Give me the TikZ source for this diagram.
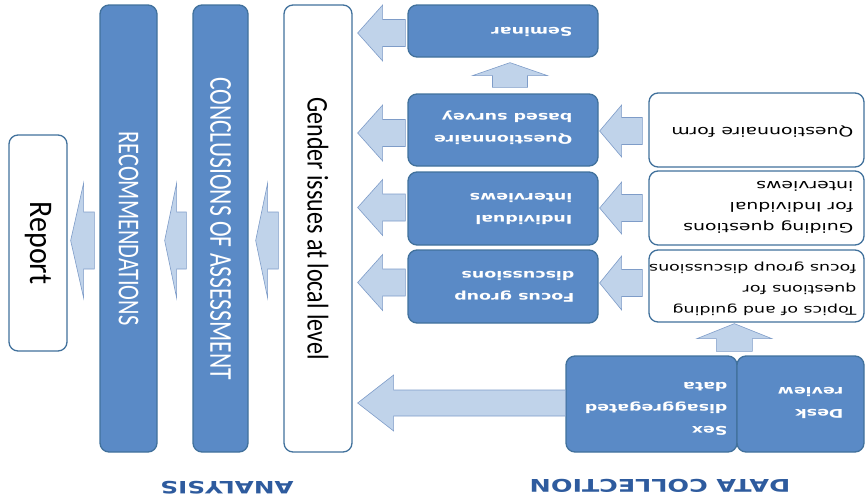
\documentclass[tikz,border=0pt]{standalone}
\usepackage{fontspec}
\usepackage{graphicx}
\setmainfont{DejaVu Sans}
\newfontfamily\wfont[FakeStretch=1.45]{DejaVu Sans}
\newfontfamily\cfont{Carlito}
\usetikzlibrary{calc}
\definecolor{boxblue}{HTML}{5A8AC6}
\definecolor{boxline}{HTML}{41719C}
\definecolor{arrfill}{HTML}{C0D3EA}
\definecolor{arrline}{HTML}{7E9CC8}
\definecolor{titleblue}{HTML}{2E5B9E}
% #1 tail coordinate, #2 tip coordinate (same y), #3 head length, #4 head half height, #5 shaft half height
\newcommand\blockleft[5]{%
  \draw[barrow] (#2) -- ([shift={(#3,-#4)}]#2) -- ([shift={(#3,-#5)}]#2)
    -- ([shift={(0,-#5)}]#1) -- ([shift={(0,#5)}]#1)
    -- ([shift={(#3,#5)}]#2) -- ([shift={(#3,#4)}]#2) -- cycle;}
% #1 tail coordinate (below), #2 tip coordinate (above, same x)
\newcommand\blockup[5]{%
  \draw[barrow] (#2) -- ([shift={(#4,#3)}]#2) -- ([shift={(#5,#3)}]#2)
    -- ([shift={(#5,0)}]#1) -- ([shift={(-#5,0)}]#1)
    -- ([shift={(-#5,#3)}]#2) -- ([shift={(-#4,#3)}]#2) -- cycle;}
\begin{document}
\begin{tikzpicture}[x=1pt,y=-1pt,
  bluebox/.style={draw=boxline, line width=1.3pt, fill=boxblue, rounded corners=9pt, inner sep=0pt},
  whitebox/.style={draw=boxline, line width=1.3pt, fill=white, rounded corners=9pt, inner sep=0pt},
  barrow/.style={draw=arrline, line width=0.6pt, fill=arrfill, line join=miter},
  btext/.style={rotate=180, inner sep=0pt, align=left, text=white, font=\wfont\bfseries\fontsize{12}{22}\selectfont},
  wtext/.style={rotate=180, inner sep=0pt, align=left, text=black, font=\wfont\fontsize{13}{21}\selectfont},
  vtext/.style={rotate=-90, inner sep=0pt},
  titletext/.style={rotate=180, inner sep=0pt, text=titleblue, font=\wfont\bfseries\fontsize{17}{20}\selectfont}
]
\useasboundingbox (0,0) rectangle (867,501);

% ---------- analysis column ----------
\node[whitebox, minimum width=58pt, minimum height=216pt] (report) at (38,243) {};
\node[bluebox, minimum width=57pt, minimum height=447pt] (recom) at (128.5,228.5) {};
\node[bluebox, minimum width=55pt, minimum height=447pt] (concl) at (220.5,228.5) {};
\node[whitebox, minimum width=68pt, minimum height=447pt] (gender) at (318,228.5) {};

\node[vtext] (report-t) at (report) {\scalebox{1}[1.1]{\cfont\fontsize{30}{34}\selectfont Report}};
\node[vtext, text=white] (recom-t) at (recom) {\scalebox{1}[1.35]{\cfont\fontsize{22.4}{26}\selectfont RECOMMENDATIONS}};
\node[vtext, text=white] (concl-t) at (concl) {\scalebox{1}[1.35]{\cfont\fontsize{23.6}{27}\selectfont CONCLUSIONS OF ASSESSMENT}};
\node[vtext] (gender-t) at (gender) {\scalebox{1}[1.25]{\cfont\fontsize{24}{28}\selectfont Gender issues at local level}};

% ---------- data collection: blue boxes ----------
\node[bluebox, minimum width=190pt, minimum height=52pt] (seminar) at (503,31) {};
\node[bluebox, minimum width=190pt, minimum height=72pt] (qsurvey) at (503,130) {};
\node[bluebox, minimum width=190pt, minimum height=73pt] (interv) at (503,208.5) {};
\node[bluebox, minimum width=190pt, minimum height=73pt] (focus) at (503,286.5) {};
\node[bluebox, minimum width=171pt, minimum height=96pt] (sex) at (651.5,404) {};
\node[bluebox, minimum width=127pt, minimum height=96pt] (desk) at (800.5,404) {};

% ---------- data collection: white boxes ----------
\node[whitebox, minimum width=215pt, minimum height=74pt] (qform) at (756.5,130) {};
\node[whitebox, minimum width=215pt, minimum height=74pt] (guide) at (756.5,208) {};
\node[whitebox, minimum width=215pt, minimum height=72pt] (topics) at (756.5,286) {};

% ---------- texts ----------
\node[btext, anchor=west] (seminar-t) at ($(seminar.east)+(-26,1)$) {Seminar};
\node[btext, anchor=west] (qsurvey-t) at ($(qsurvey.east)+(-26,-2)$) {Questionnaire\\based survey};
\node[btext, anchor=west] (interv-t) at ($(interv.east)+(-26,0)$) {Individual\\interviews};
\node[btext, anchor=west] (focus-t) at ($(focus.east)+(-24,0)$) {Focus group\\discussions};
\node[btext, anchor=west] (sex-t) at ($(sex.east)+(-10,5)$) {Sex\\disaggregated\\data};
\node[btext, anchor=west] (desk-t) at ($(desk.east)+(-21,-1)$) {Desk\\review};

\node[wtext, anchor=west] (qform-t) at ($(qform.east)+(-11,2)$) {Questionnaire form};
\node[wtext, anchor=west] (guide-t) at ($(guide.east)+(-11,-1)$) {Guiding questions\\for Individual\\interviews};
\node[wtext, anchor=west, font=\wfont\fontsize{12}{21}\selectfont] (topics-t) at ($(topics.east)+(-8,3)$) {Topics of and guiding\\questions for\\focus group discussions};

\node[titletext] (analysis) at (227,488) {ANALYSIS};
\node[titletext, font=\wfont\bfseries\fontsize{17.5}{20}\selectfont] (datacoll) at (660,486) {DATA COLLECTION};

% ---------- arrows: data collection -> gender issues ----------
\coordinate (t1) at ($(seminar.west)+(-2,2)$);
\coordinate (h1) at ($(gender.east |- t1)+(5,0)$);
\blockleft{t1}{h1}{25}{28}{13.5}
\coordinate (t2) at ($(qsurvey.west)+(-2,3)$);
\coordinate (h2) at ($(gender.east |- t2)+(5,0)$);
\blockleft{t2}{h2}{25}{28}{13.5}
\coordinate (t3) at ($(interv.west)+(-2,-1)$);
\coordinate (h3) at ($(gender.east |- t3)+(5,0)$);
\blockleft{t3}{h3}{25}{28}{13.5}
\coordinate (t4) at ($(focus.west)+(-2,-4)$);
\coordinate (h4) at ($(gender.east |- t4)+(5,0)$);
\blockleft{t4}{h4}{25}{28}{13.5}
\coordinate (t5) at ($(sex.west)+(0,-1)$);
\coordinate (h5) at ($(gender.east |- t5)+(5,0)$);
\blockleft{t5}{h5}{36}{28}{13}

% ---------- arrows: white boxes -> blue boxes ----------
\coordinate (t6) at ($(qform.west)+(-6,1)$);
\coordinate (h6) at ($(qsurvey.east |- t6)+(1,0)$);
\blockleft{t6}{h6}{22}{26}{13.5}
\coordinate (t7) at ($(guide.west)+(-6,0)$);
\coordinate (h7) at ($(interv.east |- t7)+(1,0)$);
\blockleft{t7}{h7}{22}{26}{13.5}
\coordinate (t8) at ($(topics.west)+(-6,-3)$);
\coordinate (h8) at ($(focus.east |- t8)+(1,0)$);
\blockleft{t8}{h8}{22}{27}{13.5}

% ---------- up arrows ----------
\coordinate (t9) at ($(qsurvey.north)+(7,-6)$);
\coordinate (h9) at ($(seminar.south)+(7,5)$);
\blockup{t9}{h9}{13}{37.5}{17.5}
\coordinate (t10) at ($(desk.north west)+(-2,-4)$);
\coordinate (h10) at ($(topics.south -| t10)+(0,1)$);
\blockup{t10}{h10}{15}{37.5}{18}

% ---------- analysis arrows ----------
\coordinate (t11) at ($(gender.west)+(-5,12)$);
\coordinate (h11) at ($(concl.east |- t11)+(7,0)$);
\blockleft{t11}{h11}{12}{57.5}{28.5}
\coordinate (t12) at ($(concl.west)+(-6,12)$);
\coordinate (h12) at ($(recom.east |- t12)+(7,0)$);
\blockleft{t12}{h12}{12}{57.5}{28.5}
\coordinate (t13) at ($(recom.west)+(-5,12)$);
\coordinate (h13) at ($(report.east |- t13)+(3,0)$);
\blockleft{t13}{h13}{13}{57.5}{28.5}
\end{tikzpicture}
\end{document}
